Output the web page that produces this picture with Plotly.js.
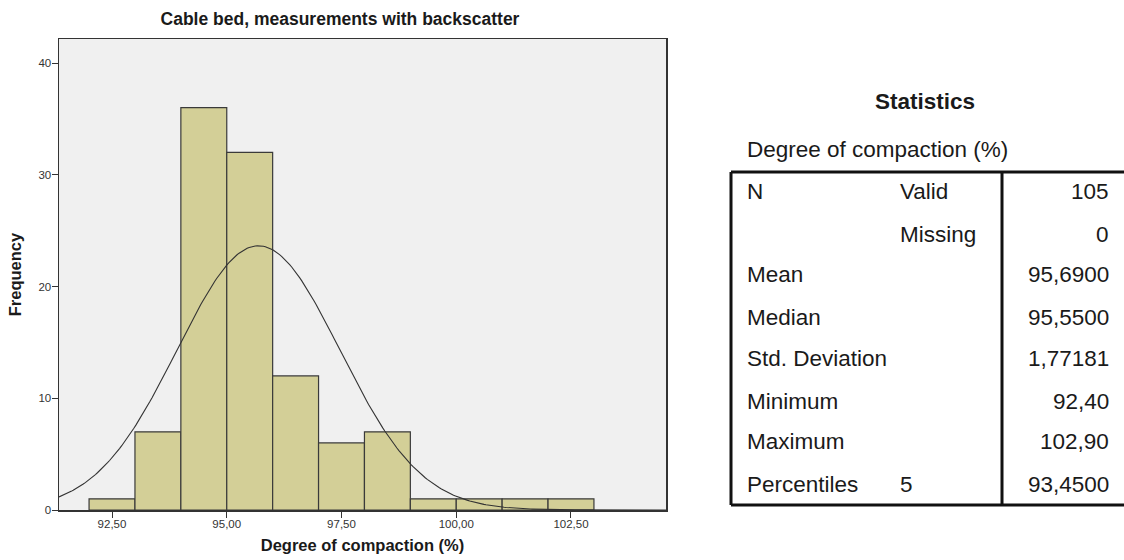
<!DOCTYPE html>
<html>
<head>
<meta charset="utf-8">
<script src="https://cdn.plot.ly/plotly-3.0.1.min.js"></script>
<style>
  html, body { margin: 0; padding: 0; background: #ffffff; }
  #chart { width: 1124px; height: 560px; }
</style>
</head>
<body>
<div id="chart"></div>
<script>
// ---- Data ----
const binStarts = [92, 93, 94, 95, 96, 97, 98, 99, 100, 101, 102];
const binCounts = [1, 7, 36, 32, 12, 6, 7, 1, 1, 1, 1];
const binWidth = 1;

const statN = 105;
const statMean = 95.69;
const statSD = 1.77181;

const chartTitle = "Cable bed, measurements with backscatter";
const xTitle = "Degree of compaction (%)";
const yTitle = "Frequency";

const tableTitle = "Statistics";
const tableSubtitle = "Degree of compaction (%)";
const rowLabels = ["N", "", "Mean", "Median", "Std. Deviation", "Minimum", "Maximum", "Percentiles"];
const rowSubLabels = ["Valid", "Missing", "", "", "", "", "", "5"];
const rowValues = ["105", "0", "95,6900", "95,5500", "1,77181", "92,40", "102,90", "93,4500"];

// ---- Layout geometry (pixels) ----
const W = 1124, H = 560;
const L = 59, R = 666, T = 39, B = 510;
const xRange = [91.345, 104.57];
const yRange = [0, 42.15];
const px = x => (x - L) / (R - L);
const py = y => (B - y) / (B - T);

// Normal curve from the table's mean and standard deviation
const curveX = [], curveY = [];
const nPts = 300;
for (let i = 0; i <= nPts; i++) {
  const x = xRange[0] + (xRange[1] - xRange[0]) * i / nPts;
  const z = (x - statMean) / statSD;
  curveX.push(x);
  curveY.push(statN * binWidth * Math.exp(-0.5 * z * z) / (statSD * Math.sqrt(2 * Math.PI)));
}

const bars = {
  type: "bar",
  x: binStarts.map(s => s + binWidth / 2),
  y: binCounts,
  width: binStarts.map(() => binWidth),
  marker: { color: "#d3cf97", line: { color: "#3a3a3a", width: 1.2 } },
  hoverinfo: "x+y",
  showlegend: false
};

const curve = {
  type: "scatter",
  mode: "lines",
  x: curveX,
  y: curveY,
  line: { color: "#333333", width: 1.1 },
  hoverinfo: "skip",
  showlegend: false
};

const FONT = "Liberation Sans, Arial, sans-serif";
const txt = "#1a1a1a";
const TFS = 22.5;

// Table shapes
const lineCol = "#111111";
const tLeft = 731, tTop = 172, tBot = 505, tDiv = 1002, tRight = 1135;
const shapes = [
  { type: "line", xref: "paper", yref: "paper", x0: px(tLeft), x1: px(tRight), y0: py(tTop), y1: py(tTop), line: { color: lineCol, width: 3 } },
  { type: "line", xref: "paper", yref: "paper", x0: px(tLeft), x1: px(tRight), y0: py(tBot), y1: py(tBot), line: { color: lineCol, width: 3 } },
  { type: "line", xref: "paper", yref: "paper", x0: px(tLeft), x1: px(tLeft), y0: py(tTop), y1: py(tBot), line: { color: lineCol, width: 3 } },
  { type: "line", xref: "paper", yref: "paper", x0: px(tDiv), x1: px(tDiv), y0: py(tTop), y1: py(tBot), line: { color: lineCol, width: 3 } }
];

const rowY = [191, 234, 274, 317, 358, 401, 441, 484];
const annotations = [
  { xref: "paper", yref: "paper", x: px(925), y: py(102), text: "<b>" + tableTitle + "</b>", showarrow: false,
    xanchor: "center", yanchor: "middle", font: { family: FONT, size: TFS, color: txt } },
  { xref: "paper", yref: "paper", x: px(745), y: py(150), text: tableSubtitle, showarrow: false,
    xanchor: "left", yanchor: "middle", font: { family: FONT, size: TFS, color: txt } }
];
rowY.forEach((y, i) => {
  if (rowLabels[i]) annotations.push({ xref: "paper", yref: "paper", x: px(745), y: py(y), text: rowLabels[i], showarrow: false,
    xanchor: "left", yanchor: "middle", font: { family: FONT, size: TFS, color: txt } });
  if (rowSubLabels[i]) annotations.push({ xref: "paper", yref: "paper", x: px(898), y: py(y), text: rowSubLabels[i], showarrow: false,
    xanchor: "left", yanchor: "middle", font: { family: FONT, size: TFS, color: txt } });
  annotations.push({ xref: "paper", yref: "paper", x: px(1111), y: py(y), text: rowValues[i], showarrow: false,
    xanchor: "right", yanchor: "middle", font: { family: FONT, size: TFS, color: txt } });
});

const layout = {
  width: W, height: H,
  margin: { l: L, r: W - R, t: T, b: H - B, pad: 0 },
  paper_bgcolor: "#ffffff",
  plot_bgcolor: "#f0f0f0",
  separators: ",.",
  bargap: 0,
  title: {
    text: "<b>" + chartTitle + "</b>",
    x: 340 / W, xanchor: "center", xref: "container",
    y: 1 - 19 / H, yanchor: "middle", yref: "container",
    font: { family: FONT, size: 17.5, color: txt }
  },
  xaxis: {
    range: xRange,
    tick0: 92.5, dtick: 2.5, tickformat: ".2f",
    ticks: "outside", ticklen: 6, tickcolor: "#333", tickwidth: 1,
    ticklabelstandoff: -3,
    showgrid: false, zeroline: false,
    showline: true, linecolor: "#333", linewidth: 1.5, mirror: true,
    tickfont: { family: FONT, size: 11.5, color: "#333" },
    title: { text: "<b>" + xTitle + "</b>", standoff: 10, font: { family: FONT, size: 16.5, color: txt } },
    fixedrange: true
  },
  yaxis: {
    range: yRange,
    tick0: 0, dtick: 10,
    ticks: "outside", ticklen: 6, tickcolor: "#333", tickwidth: 1,
    ticklabelstandoff: -2,
    showgrid: false, zeroline: false,
    showline: true, linecolor: "#333", linewidth: 1.5, mirror: true,
    tickfont: { family: FONT, size: 11.5, color: "#333" },
    title: { text: "<b>" + yTitle + "</b>", standoff: 12, font: { family: FONT, size: 16.5, color: txt } },
    fixedrange: true
  },
  shapes: shapes,
  annotations: annotations,
  showlegend: false
};

Plotly.newPlot("chart", [bars, curve], layout, { displayModeBar: false, staticPlot: true });
</script>
</body>
</html>
